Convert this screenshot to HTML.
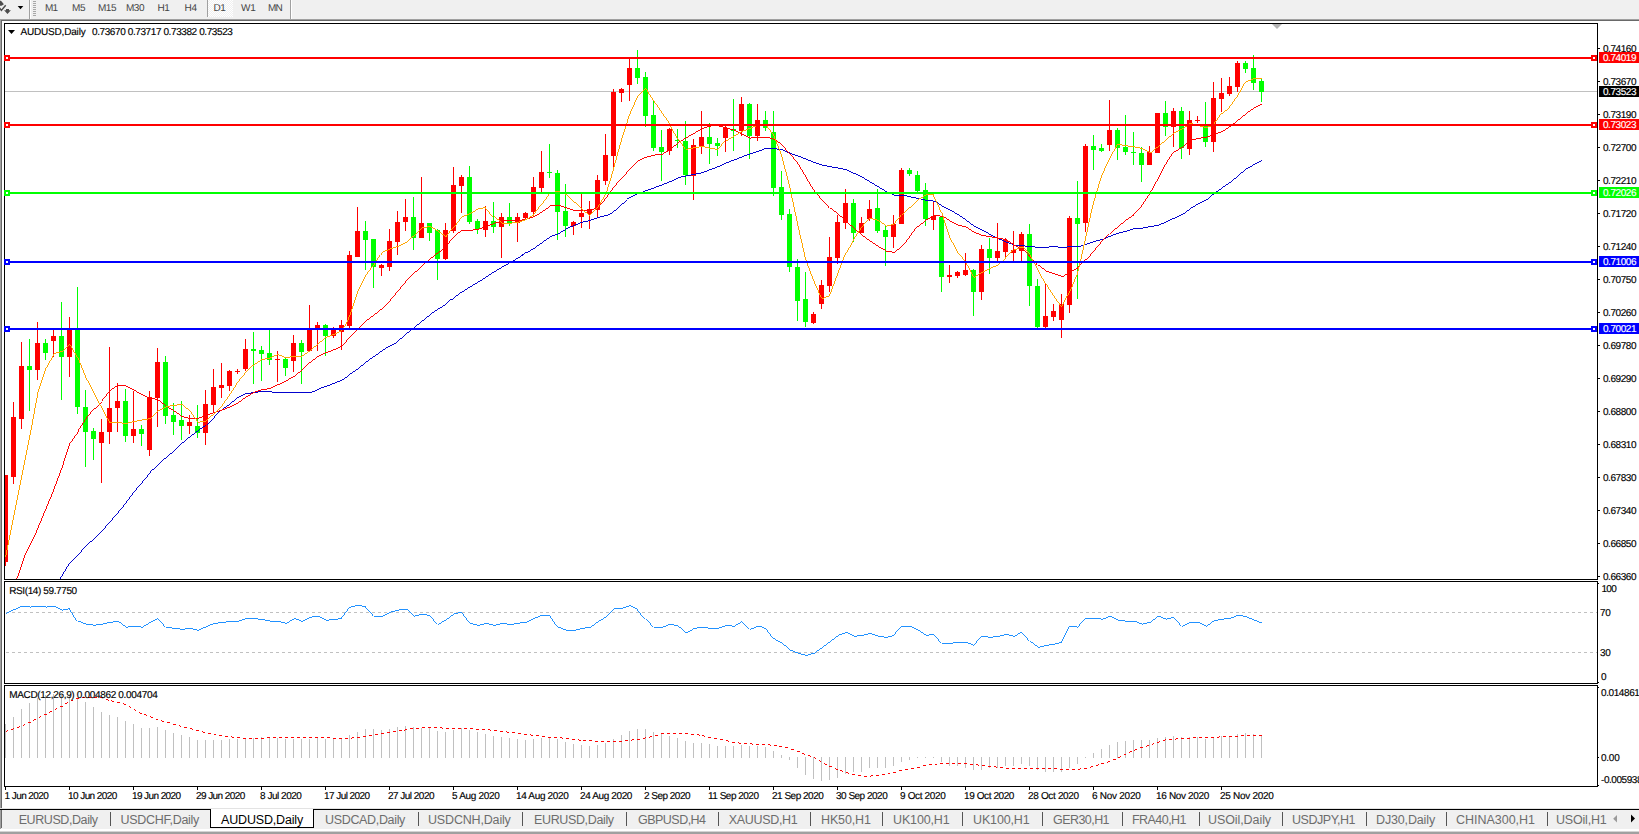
<!DOCTYPE html>
<html lang="en"><head><meta charset="utf-8"><title>AUDUSD,Daily</title>
<style>
html,body{margin:0;padding:0;background:#fff;}
body{width:1639px;height:834px;overflow:hidden;position:relative;font-family:"Liberation Sans",sans-serif;}
.t{position:absolute;white-space:nowrap;line-height:1;color:#000;text-rendering:geometricPrecision;-webkit-text-stroke:0.15px currentColor;}
svg{position:absolute;left:0;top:0;}

</style></head><body>
<svg width="1639" height="834" viewBox="0 0 1639 834" shape-rendering="crispEdges">
<rect x="0" y="0" width="1639" height="19" fill="#f0f0f0"/>
<rect x="0" y="19" width="1639" height="1" fill="#a0a0a0"/>
<rect x="0" y="20" width="1639" height="1" fill="#696969"/>
<rect x="0" y="20" width="1" height="788" fill="#a0a0a0"/>
<rect x="1" y="20" width="1" height="788" fill="#696969"/>
<rect x="29" y="0" width="1" height="19" fill="#a0a0a0"/><rect x="30" y="0" width="1" height="19" fill="#fff"/>
<rect x="33" y="1" width="3" height="1" fill="#a8a8a8"/>
<rect x="33" y="3" width="3" height="1" fill="#a8a8a8"/>
<rect x="33" y="5" width="3" height="1" fill="#a8a8a8"/>
<rect x="33" y="7" width="3" height="1" fill="#a8a8a8"/>
<rect x="33" y="9" width="3" height="1" fill="#a8a8a8"/>
<rect x="33" y="11" width="3" height="1" fill="#a8a8a8"/>
<rect x="33" y="13" width="3" height="1" fill="#a8a8a8"/>
<rect x="33" y="15" width="3" height="1" fill="#a8a8a8"/>
<rect x="207" y="0" width="1" height="17" fill="#a0a0a0"/>
<defs><pattern id="dz" width="2" height="2" patternUnits="userSpaceOnUse"><rect width="2" height="2" fill="#f0f0f0"/><rect width="1" height="1" fill="#fff"/><rect x="1" y="1" width="1" height="1" fill="#fff"/></pattern></defs>
<rect x="208" y="0" width="25" height="17" fill="url(#dz)"/>
<rect x="290" y="0" width="1" height="19" fill="#a0a0a0"/><rect x="291" y="0" width="1" height="19" fill="#fff"/>
<g shape-rendering="auto"><path d="M0 0.7 L1 0.7 L3.9 4.3 L1.6 5.7 L0 5.7 Z" fill="#4d4d4d"/><path d="M-0.5 8 L1.4 10.4 L5.7 5.3" stroke="#4d4d4d" stroke-width="1.5" fill="none"/><path d="M6 9 H9 V10.2 H10.9 L7.5 14 L4.1 10.2 H6 Z" fill="#4d4d4d"/><path d="M17.7 6 H23.3 L20.5 9.3 Z" fill="#000"/></g>
<rect x="4" y="23" width="1594" height="1" fill="#000"/>
<rect x="4" y="579" width="1594" height="1" fill="#000"/>
<rect x="4" y="23" width="1" height="557" fill="#000"/>
<rect x="1597" y="23" width="1" height="557" fill="#000"/>
<rect x="4" y="581" width="1594" height="1" fill="#000"/>
<rect x="4" y="683" width="1594" height="1" fill="#000"/>
<rect x="4" y="581" width="1" height="103" fill="#000"/>
<rect x="1597" y="581" width="1" height="103" fill="#000"/>
<rect x="4" y="685" width="1594" height="1" fill="#000"/>
<rect x="4" y="786" width="1594" height="1" fill="#000"/>
<rect x="4" y="685" width="1" height="102" fill="#000"/>
<rect x="1597" y="685" width="1" height="102" fill="#000"/>
<rect x="1598" y="48" width="2" height="1" fill="#000"/>
<rect x="1598" y="81" width="2" height="1" fill="#000"/>
<rect x="1598" y="114" width="2" height="1" fill="#000"/>
<rect x="1598" y="147" width="2" height="1" fill="#000"/>
<rect x="1598" y="180" width="2" height="1" fill="#000"/>
<rect x="1598" y="213" width="2" height="1" fill="#000"/>
<rect x="1598" y="246" width="2" height="1" fill="#000"/>
<rect x="1598" y="279" width="2" height="1" fill="#000"/>
<rect x="1598" y="312" width="2" height="1" fill="#000"/>
<rect x="1598" y="345" width="2" height="1" fill="#000"/>
<rect x="1598" y="378" width="2" height="1" fill="#000"/>
<rect x="1598" y="411" width="2" height="1" fill="#000"/>
<rect x="1598" y="444" width="2" height="1" fill="#000"/>
<rect x="1598" y="477" width="2" height="1" fill="#000"/>
<rect x="1598" y="510" width="2" height="1" fill="#000"/>
<rect x="1598" y="543" width="2" height="1" fill="#000"/>
<rect x="1598" y="576" width="2" height="1" fill="#000"/>
<rect x="1598" y="583" width="1" height="1" fill="#000"/>
<rect x="1598" y="682" width="1" height="1" fill="#000"/>
<rect x="1598" y="687" width="1" height="1" fill="#000"/>
<rect x="1598" y="757" width="1" height="1" fill="#000"/>
<rect x="1598" y="785" width="1" height="1" fill="#000"/>
<rect x="5" y="787" width="1" height="3" fill="#000"/>
<rect x="69" y="787" width="1" height="3" fill="#000"/>
<rect x="133" y="787" width="1" height="3" fill="#000"/>
<rect x="197" y="787" width="1" height="3" fill="#000"/>
<rect x="261" y="787" width="1" height="3" fill="#000"/>
<rect x="325" y="787" width="1" height="3" fill="#000"/>
<rect x="389" y="787" width="1" height="3" fill="#000"/>
<rect x="453" y="787" width="1" height="3" fill="#000"/>
<rect x="517" y="787" width="1" height="3" fill="#000"/>
<rect x="581" y="787" width="1" height="3" fill="#000"/>
<rect x="645" y="787" width="1" height="3" fill="#000"/>
<rect x="709" y="787" width="1" height="3" fill="#000"/>
<rect x="773" y="787" width="1" height="3" fill="#000"/>
<rect x="837" y="787" width="1" height="3" fill="#000"/>
<rect x="901" y="787" width="1" height="3" fill="#000"/>
<rect x="965" y="787" width="1" height="3" fill="#000"/>
<rect x="1029" y="787" width="1" height="3" fill="#000"/>
<rect x="1093" y="787" width="1" height="3" fill="#000"/>
<rect x="1157" y="787" width="1" height="3" fill="#000"/>
<rect x="1221" y="787" width="1" height="3" fill="#000"/>
<rect x="5" y="91" width="1592" height="1" fill="#c0c0c0"/>
<path d="M6 612.5 H1597 M6 652.5 H1597" stroke="#c0c0c0" stroke-width="1" stroke-dasharray="3 3" fill="none"/>
<defs><clipPath id="cm"><rect x="5" y="24" width="1592" height="555"/></clipPath></defs>
<g clip-path="url(#cm)">
<rect x="5" y="475" width="1" height="91" fill="#ff0000"/><rect x="3" y="475" width="5" height="87" fill="#ff0000"/>
<rect x="13" y="402" width="1" height="82" fill="#ff0000"/><rect x="11" y="417" width="5" height="60" fill="#ff0000"/>
<rect x="21" y="342" width="1" height="87" fill="#ff0000"/><rect x="19" y="366" width="5" height="53" fill="#ff0000"/>
<rect x="29" y="339" width="1" height="72" fill="#00ff00"/><rect x="27" y="366" width="5" height="4" fill="#00ff00"/>
<rect x="37" y="322" width="1" height="58" fill="#ff0000"/><rect x="35" y="343" width="5" height="27" fill="#ff0000"/>
<rect x="45" y="339" width="1" height="21" fill="#00ff00"/><rect x="43" y="343" width="5" height="10" fill="#00ff00"/>
<rect x="53" y="330" width="1" height="27" fill="#ff0000"/><rect x="51" y="336" width="5" height="5" fill="#ff0000"/>
<rect x="61" y="302" width="1" height="98" fill="#00ff00"/><rect x="59" y="336" width="5" height="21" fill="#00ff00"/>
<rect x="69" y="317" width="1" height="60" fill="#ff0000"/><rect x="67" y="330" width="5" height="27" fill="#ff0000"/>
<rect x="77" y="287" width="1" height="127" fill="#00ff00"/><rect x="75" y="330" width="5" height="77" fill="#00ff00"/>
<rect x="85" y="390" width="1" height="77" fill="#00ff00"/><rect x="83" y="407" width="5" height="25" fill="#00ff00"/>
<rect x="93" y="428" width="1" height="32" fill="#00ff00"/><rect x="91" y="431" width="5" height="8" fill="#00ff00"/>
<rect x="101" y="419" width="1" height="64" fill="#ff0000"/><rect x="99" y="432" width="5" height="11" fill="#ff0000"/>
<rect x="109" y="347" width="1" height="97" fill="#ff0000"/><rect x="107" y="408" width="5" height="24" fill="#ff0000"/>
<rect x="117" y="383" width="1" height="49" fill="#ff0000"/><rect x="115" y="401" width="5" height="7" fill="#ff0000"/>
<rect x="125" y="389" width="1" height="53" fill="#00ff00"/><rect x="123" y="401" width="5" height="35" fill="#00ff00"/>
<rect x="133" y="391" width="1" height="52" fill="#ff0000"/><rect x="131" y="429" width="5" height="7" fill="#ff0000"/>
<rect x="141" y="425" width="1" height="21" fill="#00ff00"/><rect x="139" y="429" width="5" height="5" fill="#00ff00"/>
<rect x="149" y="391" width="1" height="65" fill="#ff0000"/><rect x="147" y="397" width="5" height="53" fill="#ff0000"/>
<rect x="157" y="348" width="1" height="79" fill="#ff0000"/><rect x="155" y="362" width="5" height="36" fill="#ff0000"/>
<rect x="165" y="356" width="1" height="68" fill="#00ff00"/><rect x="163" y="362" width="5" height="54" fill="#00ff00"/>
<rect x="173" y="403" width="1" height="32" fill="#00ff00"/><rect x="171" y="415" width="5" height="7" fill="#00ff00"/>
<rect x="181" y="401" width="1" height="39" fill="#00ff00"/><rect x="179" y="420" width="5" height="6" fill="#00ff00"/>
<rect x="189" y="415" width="1" height="19" fill="#ff0000"/><rect x="187" y="422" width="5" height="4" fill="#ff0000"/>
<rect x="197" y="405" width="1" height="33" fill="#00ff00"/><rect x="195" y="426" width="5" height="7" fill="#00ff00"/>
<rect x="205" y="390" width="1" height="55" fill="#ff0000"/><rect x="203" y="404" width="5" height="29" fill="#ff0000"/>
<rect x="213" y="369" width="1" height="44" fill="#ff0000"/><rect x="211" y="387" width="5" height="18" fill="#ff0000"/>
<rect x="221" y="363" width="1" height="35" fill="#ff0000"/><rect x="219" y="385" width="5" height="3" fill="#ff0000"/>
<rect x="229" y="370" width="1" height="21" fill="#ff0000"/><rect x="227" y="371" width="5" height="15" fill="#ff0000"/>
<rect x="237" y="369" width="1" height="5" fill="#ff0000"/><rect x="235" y="371" width="5" height="1" fill="#ff0000"/>
<rect x="245" y="339" width="1" height="32" fill="#ff0000"/><rect x="243" y="349" width="5" height="20" fill="#ff0000"/>
<rect x="253" y="332" width="1" height="52" fill="#00ff00"/><rect x="251" y="349" width="5" height="2" fill="#00ff00"/>
<rect x="261" y="346" width="1" height="35" fill="#00ff00"/><rect x="259" y="350" width="5" height="4" fill="#00ff00"/>
<rect x="269" y="330" width="1" height="35" fill="#00ff00"/><rect x="267" y="353" width="5" height="7" fill="#00ff00"/>
<rect x="277" y="351" width="1" height="31" fill="#ff0000"/><rect x="275" y="359" width="5" height="1" fill="#ff0000"/>
<rect x="285" y="358" width="1" height="18" fill="#00ff00"/><rect x="283" y="359" width="5" height="9" fill="#00ff00"/>
<rect x="293" y="335" width="1" height="37" fill="#ff0000"/><rect x="291" y="343" width="5" height="18" fill="#ff0000"/>
<rect x="301" y="340" width="1" height="44" fill="#00ff00"/><rect x="299" y="343" width="5" height="9" fill="#00ff00"/>
<rect x="309" y="305" width="1" height="46" fill="#ff0000"/><rect x="307" y="329" width="5" height="22" fill="#ff0000"/>
<rect x="317" y="322" width="1" height="29" fill="#ff0000"/><rect x="315" y="325" width="5" height="5" fill="#ff0000"/>
<rect x="325" y="324" width="1" height="32" fill="#00ff00"/><rect x="323" y="325" width="5" height="11" fill="#00ff00"/>
<rect x="333" y="327" width="1" height="11" fill="#ff0000"/><rect x="331" y="329" width="5" height="7" fill="#ff0000"/>
<rect x="341" y="320" width="1" height="30" fill="#ff0000"/><rect x="339" y="325" width="5" height="7" fill="#ff0000"/>
<rect x="349" y="251" width="1" height="77" fill="#ff0000"/><rect x="347" y="255" width="5" height="71" fill="#ff0000"/>
<rect x="357" y="207" width="1" height="50" fill="#ff0000"/><rect x="355" y="231" width="5" height="26" fill="#ff0000"/>
<rect x="365" y="221" width="1" height="49" fill="#00ff00"/><rect x="363" y="231" width="5" height="9" fill="#00ff00"/>
<rect x="373" y="239" width="1" height="49" fill="#00ff00"/><rect x="371" y="239" width="5" height="28" fill="#00ff00"/>
<rect x="381" y="264" width="1" height="12" fill="#ff0000"/><rect x="379" y="265" width="5" height="3" fill="#ff0000"/>
<rect x="389" y="229" width="1" height="42" fill="#ff0000"/><rect x="387" y="241" width="5" height="26" fill="#ff0000"/>
<rect x="397" y="211" width="1" height="44" fill="#ff0000"/><rect x="395" y="222" width="5" height="20" fill="#ff0000"/>
<rect x="405" y="199" width="1" height="32" fill="#ff0000"/><rect x="403" y="217" width="5" height="5" fill="#ff0000"/>
<rect x="413" y="197" width="1" height="53" fill="#00ff00"/><rect x="411" y="217" width="5" height="21" fill="#00ff00"/>
<rect x="421" y="177" width="1" height="61" fill="#ff0000"/><rect x="419" y="223" width="5" height="15" fill="#ff0000"/>
<rect x="429" y="223" width="1" height="18" fill="#00ff00"/><rect x="427" y="223" width="5" height="10" fill="#00ff00"/>
<rect x="437" y="229" width="1" height="51" fill="#00ff00"/><rect x="435" y="230" width="5" height="29" fill="#00ff00"/>
<rect x="445" y="223" width="1" height="37" fill="#ff0000"/><rect x="443" y="230" width="5" height="29" fill="#ff0000"/>
<rect x="453" y="167" width="1" height="66" fill="#ff0000"/><rect x="451" y="185" width="5" height="46" fill="#ff0000"/>
<rect x="461" y="175" width="1" height="38" fill="#ff0000"/><rect x="459" y="177" width="5" height="9" fill="#ff0000"/>
<rect x="469" y="166" width="1" height="58" fill="#00ff00"/><rect x="467" y="177" width="5" height="45" fill="#00ff00"/>
<rect x="477" y="219" width="1" height="15" fill="#00ff00"/><rect x="475" y="221" width="5" height="8" fill="#00ff00"/>
<rect x="485" y="206" width="1" height="31" fill="#ff0000"/><rect x="483" y="221" width="5" height="9" fill="#ff0000"/>
<rect x="493" y="202" width="1" height="31" fill="#00ff00"/><rect x="491" y="221" width="5" height="6" fill="#00ff00"/>
<rect x="501" y="213" width="1" height="45" fill="#ff0000"/><rect x="499" y="217" width="5" height="10" fill="#ff0000"/>
<rect x="509" y="203" width="1" height="23" fill="#00ff00"/><rect x="507" y="217" width="5" height="6" fill="#00ff00"/>
<rect x="517" y="213" width="1" height="29" fill="#ff0000"/><rect x="515" y="217" width="5" height="6" fill="#ff0000"/>
<rect x="525" y="212" width="1" height="8" fill="#ff0000"/><rect x="523" y="213" width="5" height="5" fill="#ff0000"/>
<rect x="533" y="177" width="1" height="39" fill="#ff0000"/><rect x="531" y="187" width="5" height="25" fill="#ff0000"/>
<rect x="541" y="151" width="1" height="41" fill="#ff0000"/><rect x="539" y="172" width="5" height="16" fill="#ff0000"/>
<rect x="549" y="144" width="1" height="34" fill="#00ff00"/><rect x="547" y="172" width="5" height="1" fill="#00ff00"/>
<rect x="557" y="170" width="1" height="70" fill="#00ff00"/><rect x="555" y="173" width="5" height="39" fill="#00ff00"/>
<rect x="565" y="184" width="1" height="53" fill="#00ff00"/><rect x="563" y="211" width="5" height="15" fill="#00ff00"/>
<rect x="573" y="221" width="1" height="14" fill="#ff0000"/><rect x="571" y="222" width="5" height="4" fill="#ff0000"/>
<rect x="581" y="194" width="1" height="34" fill="#ff0000"/><rect x="579" y="213" width="5" height="4" fill="#ff0000"/>
<rect x="589" y="201" width="1" height="28" fill="#ff0000"/><rect x="587" y="209" width="5" height="5" fill="#ff0000"/>
<rect x="597" y="175" width="1" height="42" fill="#ff0000"/><rect x="595" y="180" width="5" height="30" fill="#ff0000"/>
<rect x="605" y="134" width="1" height="51" fill="#ff0000"/><rect x="603" y="155" width="5" height="26" fill="#ff0000"/>
<rect x="613" y="89" width="1" height="80" fill="#ff0000"/><rect x="611" y="92" width="5" height="64" fill="#ff0000"/>
<rect x="621" y="88" width="1" height="14" fill="#ff0000"/><rect x="619" y="89" width="5" height="4" fill="#ff0000"/>
<rect x="629" y="59" width="1" height="42" fill="#ff0000"/><rect x="627" y="68" width="5" height="17" fill="#ff0000"/>
<rect x="637" y="50" width="1" height="34" fill="#00ff00"/><rect x="635" y="68" width="5" height="10" fill="#00ff00"/>
<rect x="645" y="72" width="1" height="55" fill="#00ff00"/><rect x="643" y="77" width="5" height="39" fill="#00ff00"/>
<rect x="653" y="101" width="1" height="50" fill="#00ff00"/><rect x="651" y="115" width="5" height="33" fill="#00ff00"/>
<rect x="661" y="130" width="1" height="51" fill="#00ff00"/><rect x="659" y="147" width="5" height="5" fill="#00ff00"/>
<rect x="669" y="128" width="1" height="27" fill="#ff0000"/><rect x="667" y="129" width="5" height="22" fill="#ff0000"/>
<rect x="677" y="129" width="1" height="19" fill="#00ff00"/><rect x="675" y="140" width="5" height="1" fill="#00ff00"/>
<rect x="685" y="121" width="1" height="64" fill="#00ff00"/><rect x="683" y="141" width="5" height="34" fill="#00ff00"/>
<rect x="693" y="139" width="1" height="61" fill="#ff0000"/><rect x="691" y="145" width="5" height="31" fill="#ff0000"/>
<rect x="701" y="111" width="1" height="43" fill="#ff0000"/><rect x="699" y="137" width="5" height="9" fill="#ff0000"/>
<rect x="709" y="123" width="1" height="41" fill="#00ff00"/><rect x="707" y="137" width="5" height="7" fill="#00ff00"/>
<rect x="717" y="138" width="1" height="18" fill="#00ff00"/><rect x="715" y="143" width="5" height="3" fill="#00ff00"/>
<rect x="725" y="126" width="1" height="26" fill="#ff0000"/><rect x="723" y="128" width="5" height="10" fill="#ff0000"/>
<rect x="733" y="99" width="1" height="52" fill="#00ff00"/><rect x="731" y="129" width="5" height="2" fill="#00ff00"/>
<rect x="741" y="97" width="1" height="39" fill="#ff0000"/><rect x="739" y="104" width="5" height="27" fill="#ff0000"/>
<rect x="749" y="103" width="1" height="56" fill="#00ff00"/><rect x="747" y="104" width="5" height="32" fill="#00ff00"/>
<rect x="757" y="104" width="1" height="37" fill="#ff0000"/><rect x="755" y="120" width="5" height="16" fill="#ff0000"/>
<rect x="765" y="111" width="1" height="20" fill="#00ff00"/><rect x="763" y="120" width="5" height="8" fill="#00ff00"/>
<rect x="773" y="111" width="1" height="85" fill="#00ff00"/><rect x="771" y="132" width="5" height="56" fill="#00ff00"/>
<rect x="781" y="171" width="1" height="49" fill="#00ff00"/><rect x="779" y="187" width="5" height="28" fill="#00ff00"/>
<rect x="789" y="209" width="1" height="63" fill="#00ff00"/><rect x="787" y="214" width="5" height="53" fill="#00ff00"/>
<rect x="797" y="259" width="1" height="62" fill="#00ff00"/><rect x="795" y="267" width="5" height="34" fill="#00ff00"/>
<rect x="805" y="272" width="1" height="55" fill="#00ff00"/><rect x="803" y="299" width="5" height="23" fill="#00ff00"/>
<rect x="813" y="312" width="1" height="12" fill="#ff0000"/><rect x="811" y="314" width="5" height="9" fill="#ff0000"/>
<rect x="821" y="280" width="1" height="29" fill="#ff0000"/><rect x="819" y="285" width="5" height="19" fill="#ff0000"/>
<rect x="829" y="237" width="1" height="55" fill="#ff0000"/><rect x="827" y="257" width="5" height="29" fill="#ff0000"/>
<rect x="837" y="215" width="1" height="49" fill="#ff0000"/><rect x="835" y="222" width="5" height="36" fill="#ff0000"/>
<rect x="845" y="189" width="1" height="40" fill="#ff0000"/><rect x="843" y="203" width="5" height="20" fill="#ff0000"/>
<rect x="853" y="199" width="1" height="43" fill="#00ff00"/><rect x="851" y="203" width="5" height="30" fill="#00ff00"/>
<rect x="861" y="217" width="1" height="16" fill="#ff0000"/><rect x="859" y="223" width="5" height="10" fill="#ff0000"/>
<rect x="869" y="200" width="1" height="21" fill="#ff0000"/><rect x="867" y="209" width="5" height="10" fill="#ff0000"/>
<rect x="877" y="189" width="1" height="44" fill="#00ff00"/><rect x="875" y="208" width="5" height="23" fill="#00ff00"/>
<rect x="885" y="225" width="1" height="41" fill="#00ff00"/><rect x="883" y="230" width="5" height="7" fill="#00ff00"/>
<rect x="893" y="215" width="1" height="33" fill="#ff0000"/><rect x="891" y="224" width="5" height="13" fill="#ff0000"/>
<rect x="901" y="168" width="1" height="56" fill="#ff0000"/><rect x="899" y="170" width="5" height="54" fill="#ff0000"/>
<rect x="909" y="168" width="1" height="8" fill="#00ff00"/><rect x="907" y="170" width="5" height="4" fill="#00ff00"/>
<rect x="917" y="171" width="1" height="21" fill="#00ff00"/><rect x="915" y="175" width="5" height="16" fill="#00ff00"/>
<rect x="925" y="183" width="1" height="43" fill="#00ff00"/><rect x="923" y="190" width="5" height="29" fill="#00ff00"/>
<rect x="933" y="201" width="1" height="29" fill="#ff0000"/><rect x="931" y="216" width="5" height="4" fill="#ff0000"/>
<rect x="941" y="217" width="1" height="75" fill="#00ff00"/><rect x="939" y="217" width="5" height="60" fill="#00ff00"/>
<rect x="949" y="265" width="1" height="18" fill="#ff0000"/><rect x="947" y="275" width="5" height="2" fill="#ff0000"/>
<rect x="957" y="271" width="1" height="7" fill="#ff0000"/><rect x="955" y="272" width="5" height="4" fill="#ff0000"/>
<rect x="965" y="253" width="1" height="23" fill="#ff0000"/><rect x="963" y="270" width="5" height="5" fill="#ff0000"/>
<rect x="973" y="269" width="1" height="47" fill="#00ff00"/><rect x="971" y="270" width="5" height="22" fill="#00ff00"/>
<rect x="981" y="245" width="1" height="55" fill="#ff0000"/><rect x="979" y="249" width="5" height="43" fill="#ff0000"/>
<rect x="989" y="238" width="1" height="36" fill="#00ff00"/><rect x="987" y="249" width="5" height="9" fill="#00ff00"/>
<rect x="997" y="223" width="1" height="38" fill="#ff0000"/><rect x="995" y="251" width="5" height="7" fill="#ff0000"/>
<rect x="1005" y="238" width="1" height="19" fill="#ff0000"/><rect x="1003" y="240" width="5" height="12" fill="#ff0000"/>
<rect x="1013" y="231" width="1" height="30" fill="#ff0000"/><rect x="1011" y="250" width="5" height="3" fill="#ff0000"/>
<rect x="1021" y="232" width="1" height="29" fill="#ff0000"/><rect x="1019" y="234" width="5" height="17" fill="#ff0000"/>
<rect x="1029" y="224" width="1" height="82" fill="#00ff00"/><rect x="1027" y="234" width="5" height="52" fill="#00ff00"/>
<rect x="1037" y="279" width="1" height="49" fill="#00ff00"/><rect x="1035" y="286" width="5" height="41" fill="#00ff00"/>
<rect x="1045" y="283" width="1" height="45" fill="#ff0000"/><rect x="1043" y="316" width="5" height="11" fill="#ff0000"/>
<rect x="1053" y="304" width="1" height="17" fill="#ff0000"/><rect x="1051" y="311" width="5" height="6" fill="#ff0000"/>
<rect x="1061" y="294" width="1" height="44" fill="#ff0000"/><rect x="1059" y="304" width="5" height="16" fill="#ff0000"/>
<rect x="1069" y="216" width="1" height="97" fill="#ff0000"/><rect x="1067" y="218" width="5" height="87" fill="#ff0000"/>
<rect x="1077" y="181" width="1" height="118" fill="#00ff00"/><rect x="1075" y="218" width="5" height="6" fill="#00ff00"/>
<rect x="1085" y="144" width="1" height="88" fill="#ff0000"/><rect x="1083" y="146" width="5" height="77" fill="#ff0000"/>
<rect x="1093" y="135" width="1" height="35" fill="#00ff00"/><rect x="1091" y="146" width="5" height="4" fill="#00ff00"/>
<rect x="1101" y="144" width="1" height="8" fill="#00ff00"/><rect x="1099" y="148" width="5" height="3" fill="#00ff00"/>
<rect x="1109" y="100" width="1" height="51" fill="#ff0000"/><rect x="1107" y="130" width="5" height="15" fill="#ff0000"/>
<rect x="1117" y="128" width="1" height="32" fill="#00ff00"/><rect x="1115" y="130" width="5" height="18" fill="#00ff00"/>
<rect x="1125" y="115" width="1" height="40" fill="#00ff00"/><rect x="1123" y="147" width="5" height="5" fill="#00ff00"/>
<rect x="1133" y="132" width="1" height="33" fill="#00ff00"/><rect x="1131" y="152" width="5" height="1" fill="#00ff00"/>
<rect x="1141" y="147" width="1" height="35" fill="#00ff00"/><rect x="1139" y="153" width="5" height="12" fill="#00ff00"/>
<rect x="1149" y="146" width="1" height="19" fill="#ff0000"/><rect x="1147" y="152" width="5" height="13" fill="#ff0000"/>
<rect x="1157" y="113" width="1" height="40" fill="#ff0000"/><rect x="1155" y="113" width="5" height="40" fill="#ff0000"/>
<rect x="1165" y="101" width="1" height="35" fill="#00ff00"/><rect x="1163" y="113" width="5" height="14" fill="#00ff00"/>
<rect x="1173" y="108" width="1" height="39" fill="#ff0000"/><rect x="1171" y="111" width="5" height="16" fill="#ff0000"/>
<rect x="1181" y="107" width="1" height="52" fill="#00ff00"/><rect x="1179" y="111" width="5" height="37" fill="#00ff00"/>
<rect x="1189" y="111" width="1" height="44" fill="#ff0000"/><rect x="1187" y="120" width="5" height="29" fill="#ff0000"/>
<rect x="1197" y="116" width="1" height="7" fill="#ff0000"/><rect x="1195" y="120" width="5" height="1" fill="#ff0000"/>
<rect x="1205" y="102" width="1" height="45" fill="#00ff00"/><rect x="1203" y="126" width="5" height="16" fill="#00ff00"/>
<rect x="1213" y="82" width="1" height="70" fill="#ff0000"/><rect x="1211" y="98" width="5" height="44" fill="#ff0000"/>
<rect x="1221" y="78" width="1" height="34" fill="#ff0000"/><rect x="1219" y="93" width="5" height="6" fill="#ff0000"/>
<rect x="1229" y="77" width="1" height="19" fill="#ff0000"/><rect x="1227" y="86" width="5" height="8" fill="#ff0000"/>
<rect x="1237" y="61" width="1" height="31" fill="#ff0000"/><rect x="1235" y="63" width="5" height="24" fill="#ff0000"/>
<rect x="1245" y="61" width="1" height="12" fill="#00ff00"/><rect x="1243" y="63" width="5" height="6" fill="#00ff00"/>
<rect x="1253" y="55" width="1" height="35" fill="#00ff00"/><rect x="1251" y="68" width="5" height="15" fill="#00ff00"/>
<rect x="1261" y="78" width="1" height="24" fill="#00ff00"/><rect x="1259" y="81" width="5" height="11" fill="#00ff00"/>
</g>
<g clip-path="url(#cm)">
<polyline points="60.0,579.0 69.5,563.0 81.1,550.5 90.7,541.8 100.3,533.0 111.8,519.8 123.3,506.3 134.8,491.0 146.3,477.6 152.5,469.2 158.2,464.4 166.0,457.7 173.9,451.0 182.0,443.3 190.0,436.6 197.9,430.9 205.9,425.1 214.0,416.5 221.9,409.8 229.9,404.0 238.0,397.3 245.8,393.8 253.9,392.5 262.0,391.5 269.8,391.5 275.2,392.5 310.5,392.4 319.3,388.5 328.9,385.3 338.5,381.4 348.1,375.7 357.6,369.0 367.2,361.3 376.8,354.6 386.4,347.8 396.0,343.0 405.6,334.4 415.2,326.7 424.8,319.1 434.4,311.4 444.0,305.6 450.5,299.9 454.0,298.1 460.5,292.4 470.5,286.0 480.5,280.0 490.5,273.5 497.5,269.2 509.5,262.5 517.5,257.7 525.5,252.9 533.5,248.1 541.5,242.4 549.5,236.6 557.5,233.7 565.5,228.9 573.5,225.1 581.5,222.2 589.5,220.3 597.5,217.4 605.5,215.5 610.5,213.6 626.9,199.2 637.5,193.5 645.5,190.6 653.5,187.7 661.5,184.8 669.5,181.6 677.5,177.7 685.5,175.8 693.5,174.3 701.5,172.8 709.5,169.5 717.5,166.6 725.5,162.8 733.5,159.9 741.5,156.6 749.5,153.9 757.5,151.0 765.5,148.5 773.5,148.5 781.5,149.9 789.5,153.3 797.5,156.2 805.5,159.4 813.5,162.5 821.5,165.2 829.5,166.7 837.5,168.1 845.5,169.6 853.5,173.5 861.5,177.3 869.5,182.1 877.5,186.9 885.5,191.7 893.5,195.1 901.5,195.0 909.5,196.9 917.5,198.4 925.5,200.3 933.5,201.2 941.5,206.0 949.5,210.3 957.5,214.7 965.5,220.4 973.5,226.2 981.5,230.0 989.5,234.8 997.5,238.7 1005.5,242.1 1013.5,245.0 1021.5,245.7 1029.5,246.6 1037.5,247.4 1045.5,247.2 1053.5,246.5 1061.5,247.5 1069.5,246.6 1077.5,246.6 1085.5,244.3 1093.5,241.4 1101.5,239.5 1109.5,236.0 1117.5,233.1 1125.5,231.2 1133.5,228.6 1141.5,228.0 1149.5,226.6 1157.5,225.2 1165.5,221.8 1173.5,218.0 1181.5,214.5 1189.5,208.5 1197.5,203.7 1205.5,199.9 1213.5,193.2 1220.5,188.4 1230.5,181.4 1245.5,168.8 1261.5,160.0" fill="none" stroke="#0000cd" stroke-width="0.99" />
<polyline points="16.8,579.0 25.5,554.0 35.0,535.0 44.6,512.0 53.3,491.0 61.9,468.0 69.5,444.0 77.2,433.4 79.2,429.0 86.8,417.7 94.5,408.0 102.2,400.5 109.9,390.9 117.9,385.0 126.0,386.0 133.8,390.0 141.9,394.7 150.1,398.1 158.0,399.7 166.0,405.9 173.9,410.7 182.0,416.5 190.0,418.4 197.9,418.4 205.9,415.5 214.0,412.6 221.9,410.1 229.9,406.9 238.0,403.0 245.8,397.3 253.9,392.5 262.0,389.6 269.8,388.7 277.9,384.8 285.9,381.0 294.0,376.5 302.0,370.1 310.0,362.5 317.9,356.5 326.0,352.6 334.0,349.8 341.9,345.9 350.0,337.3 357.6,329.6 367.2,320.0 377.0,312.9 386.6,304.7 396.2,293.2 405.8,281.7 415.4,272.1 425.0,263.0 434.6,255.4 444.4,248.2 454.0,236.6 461.5,230.5 469.5,230.5 477.5,229.0 485.5,226.5 493.5,223.2 501.5,220.9 509.5,220.9 517.5,220.9 525.5,219.0 533.5,216.5 541.5,211.7 549.5,205.9 557.5,205.0 565.5,207.8 573.5,210.7 581.5,210.7 589.5,209.8 597.5,207.8 605.7,198.7 613.5,187.7 621.5,178.1 629.5,168.5 637.5,160.9 645.5,157.0 653.5,155.1 661.5,154.2 669.5,149.4 677.5,142.6 685.5,137.8 693.5,133.0 701.5,128.3 709.5,126.0 717.5,125.8 725.5,127.9 733.5,130.2 741.5,134.0 749.5,138.0 757.5,137.7 765.5,137.0 773.5,139.5 781.5,144.7 789.5,153.3 797.5,162.9 805.5,176.3 813.5,189.8 821.5,199.4 829.5,208.1 837.5,214.3 845.5,221.5 853.5,228.7 861.5,235.4 869.5,241.2 877.5,246.5 885.5,251.0 893.5,252.4 901.5,245.8 909.5,236.5 917.5,226.2 925.5,219.9 933.5,215.6 941.5,216.2 949.5,221.0 957.5,225.2 965.5,227.1 973.5,232.5 981.5,235.4 989.5,236.7 997.5,238.3 1005.5,239.6 1013.5,245.4 1021.5,248.4 1029.5,256.0 1037.5,265.2 1045.5,271.2 1053.5,273.7 1061.5,276.7 1069.5,271.9 1077.5,267.7 1085.5,259.1 1093.5,251.4 1101.5,241.8 1109.5,233.6 1117.5,226.2 1125.5,219.9 1133.5,214.6 1141.5,206.0 1149.5,194.1 1157.5,179.8 1165.5,164.4 1173.5,151.9 1181.5,147.1 1189.5,140.2 1197.5,138.5 1205.5,137.1 1213.5,134.5 1221.5,131.4 1229.5,126.3 1237.5,119.9 1245.5,113.4 1253.5,107.6 1261.5,104.0" fill="none" stroke="#ff0000" stroke-width="0.99" />
<polyline points="5.5,557.0 31.2,429.0 37.9,392.8 46.0,367.8 53.8,353.5 61.9,351.5 69.9,343.5 77.8,357.3 85.9,377.4 93.9,392.8 101.8,408.0 109.9,423.0 117.9,422.5 126.0,423.5 133.8,421.6 141.9,420.0 149.9,418.7 158.0,410.9 166.0,406.9 173.9,405.3 182.0,404.6 190.0,410.7 197.9,422.2 205.9,421.3 214.0,413.6 221.9,405.9 229.9,394.4 238.0,381.9 245.8,372.3 253.9,364.7 262.0,359.5 269.8,358.0 277.9,354.5 285.9,357.6 294.0,356.4 302.0,356.1 310.0,350.7 317.9,344.0 326.0,337.3 334.0,334.4 341.9,330.6 346.1,323.9 350.0,315.0 357.8,291.8 365.9,275.1 374.0,264.6 381.8,252.5 389.9,249.2 398.0,246.3 406.0,242.5 413.9,235.8 421.9,228.1 430.0,226.2 437.9,231.0 445.9,236.7 453.8,226.6 461.5,216.5 469.5,213.6 477.5,208.8 485.5,207.5 493.5,216.5 501.5,223.2 509.5,223.2 517.5,222.2 525.5,219.4 533.5,214.6 541.5,204.0 549.5,192.5 557.5,191.5 565.5,194.4 573.5,202.0 581.5,209.8 589.5,215.9 597.5,207.8 605.7,194.0 613.5,168.5 621.5,139.8 629.5,114.8 637.5,96.6 645.5,88.2 653.5,100.4 661.5,112.0 669.5,123.5 677.5,137.8 685.5,149.4 693.5,147.8 701.5,146.5 709.5,148.4 717.5,149.4 725.5,140.7 733.5,135.9 741.5,131.1 749.5,128.2 757.5,125.0 765.5,124.1 773.5,135.1 781.5,155.2 789.5,185.9 797.5,223.4 805.5,259.0 813.5,280.2 821.5,298.4 829.5,295.5 837.5,274.4 845.5,253.3 853.5,239.5 861.5,227.3 869.5,218.3 877.5,220.4 885.5,226.0 893.5,224.4 901.5,214.9 909.5,207.0 917.5,199.3 925.5,194.9 933.5,194.5 941.5,211.8 949.5,236.7 957.5,252.1 965.5,261.7 973.5,277.0 981.5,272.2 989.5,268.4 997.5,264.6 1005.5,257.8 1013.5,249.8 1021.5,247.0 1029.5,254.6 1037.5,268.5 1045.5,282.9 1053.5,295.8 1061.5,307.0 1069.5,291.7 1077.5,272.5 1081.4,257.1 1085.5,238.6 1091.0,213.0 1093.5,202.8 1101.5,175.9 1109.5,158.7 1117.5,144.3 1125.5,145.8 1133.5,146.8 1141.5,148.7 1149.5,152.9 1157.5,146.2 1165.5,139.5 1173.5,132.8 1181.5,128.9 1189.5,123.3 1197.5,125.7 1205.5,127.7 1213.5,124.5 1221.5,113.4 1229.5,106.9 1237.5,96.1 1245.5,81.7 1253.5,78.4 1261.5,78.4" fill="none" stroke="#ffa500" stroke-width="0.99" />
</g>
<rect x="5" y="57" width="1592" height="2" fill="#ff0000"/>
<rect x="4" y="55" width="6" height="6" fill="#ff0000"/><rect x="6" y="57" width="2" height="2" fill="#fff"/>
<rect x="1591" y="55" width="6" height="6" fill="#ff0000"/><rect x="1593" y="57" width="2" height="2" fill="#fff"/>
<rect x="5" y="124" width="1592" height="2" fill="#ff0000"/>
<rect x="4" y="122" width="6" height="6" fill="#ff0000"/><rect x="6" y="124" width="2" height="2" fill="#fff"/>
<rect x="1591" y="122" width="6" height="6" fill="#ff0000"/><rect x="1593" y="124" width="2" height="2" fill="#fff"/>
<rect x="5" y="192" width="1592" height="2" fill="#00ff00"/>
<rect x="4" y="190" width="6" height="6" fill="#00ff00"/><rect x="6" y="192" width="2" height="2" fill="#fff"/>
<rect x="1591" y="190" width="6" height="6" fill="#00ff00"/><rect x="1593" y="192" width="2" height="2" fill="#fff"/>
<rect x="5" y="261" width="1592" height="2" fill="#0000ff"/>
<rect x="4" y="259" width="6" height="6" fill="#0000ff"/><rect x="6" y="261" width="2" height="2" fill="#fff"/>
<rect x="1591" y="259" width="6" height="6" fill="#0000ff"/><rect x="1593" y="261" width="2" height="2" fill="#fff"/>
<rect x="5" y="328" width="1592" height="2" fill="#0000ff"/>
<rect x="4" y="326" width="6" height="6" fill="#0000ff"/><rect x="6" y="328" width="2" height="2" fill="#fff"/>
<rect x="1591" y="326" width="6" height="6" fill="#0000ff"/><rect x="1593" y="328" width="2" height="2" fill="#fff"/>
<polyline points="5.5,613.2 13.5,609.5 21.5,606.1 29.5,607.1 37.5,606.1 45.5,607.1 53.5,606.1 61.5,610.1 69.5,608.5 77.5,621.2 85.5,624.2 93.5,625.2 101.5,624.2 109.5,622.2 117.5,621.6 125.5,627.2 133.5,626.2 141.5,627.2 149.5,622.2 157.5,618.2 165.5,627.2 173.5,628.3 181.5,629.3 189.5,628.3 197.5,630.3 205.5,626.6 213.5,623.2 221.5,622.8 229.5,621.2 237.5,621.2 245.5,618.6 253.5,618.4 261.5,619.4 269.5,621.2 277.5,621.4 285.5,623.4 293.5,618.6 301.5,621.4 309.5,617.2 317.5,616.4 325.5,620.2 333.5,619.6 341.5,618.2 349.5,607.1 357.5,605.1 365.5,607.1 373.5,616.2 381.5,616.2 389.5,612.1 397.5,610.1 405.5,609.1 413.5,616.2 421.5,614.2 429.5,615.8 437.5,624.2 445.5,619.6 453.5,613.8 461.5,612.1 469.5,623.2 477.5,625.6 485.5,623.2 493.5,625.6 501.5,623.2 509.5,624.6 517.5,623.2 525.5,622.2 533.5,618.2 541.5,615.2 549.5,615.4 557.5,627.2 565.5,630.3 573.5,630.3 581.5,628.3 589.5,627.2 597.5,621.6 605.5,616.6 613.5,608.5 621.5,608.1 629.5,605.7 637.5,609.5 645.5,618.7 653.5,627.2 661.5,627.2 669.5,624.2 677.5,626.2 685.5,632.9 693.5,628.3 701.5,627.2 709.5,628.3 717.5,628.3 725.5,625.6 733.5,626.2 741.5,621.2 749.5,629.3 757.5,626.2 765.5,628.3 773.5,638.9 781.5,643.4 789.5,650.0 797.5,653.4 805.5,655.4 813.5,653.0 821.5,647.4 829.5,641.3 837.5,635.3 845.5,632.3 853.5,636.3 861.5,635.3 869.5,633.3 877.5,636.3 885.5,637.3 893.5,635.3 901.5,626.2 909.5,626.2 917.5,630.3 925.5,635.3 933.5,634.3 941.5,643.4 949.5,643.4 957.5,642.3 965.5,642.3 973.5,645.4 981.5,636.3 989.5,637.3 997.5,636.3 1005.5,634.3 1013.5,636.3 1021.5,632.3 1029.5,641.3 1037.5,647.4 1045.5,645.4 1053.5,644.0 1061.5,642.3 1069.5,626.2 1077.5,627.2 1085.5,618.2 1093.5,618.2 1101.5,619.2 1109.5,616.2 1117.5,620.2 1125.5,621.2 1133.5,621.2 1141.5,624.2 1149.5,622.2 1157.5,616.2 1165.5,619.2 1173.5,617.2 1181.5,626.2 1189.5,622.2 1197.5,622.2 1205.5,626.2 1213.5,620.6 1221.5,619.2 1229.5,618.2 1237.5,615.2 1245.5,616.8 1253.5,620.2 1261.5,623.2" fill="none" stroke="#1e90ff" stroke-width="0.99" />
<rect x="5" y="724" width="1" height="34" fill="#c0c0c0"/>
<rect x="13" y="717" width="1" height="41" fill="#c0c0c0"/>
<rect x="21" y="709" width="1" height="49" fill="#c0c0c0"/>
<rect x="29" y="703" width="1" height="55" fill="#c0c0c0"/>
<rect x="37" y="698" width="1" height="60" fill="#c0c0c0"/>
<rect x="45" y="695" width="1" height="63" fill="#c0c0c0"/>
<rect x="53" y="694" width="1" height="64" fill="#c0c0c0"/>
<rect x="61" y="695" width="1" height="63" fill="#c0c0c0"/>
<rect x="69" y="696" width="1" height="62" fill="#c0c0c0"/>
<rect x="77" y="698" width="1" height="60" fill="#c0c0c0"/>
<rect x="85" y="702" width="1" height="56" fill="#c0c0c0"/>
<rect x="93" y="707" width="1" height="51" fill="#c0c0c0"/>
<rect x="101" y="712" width="1" height="46" fill="#c0c0c0"/>
<rect x="109" y="715" width="1" height="43" fill="#c0c0c0"/>
<rect x="117" y="717" width="1" height="41" fill="#c0c0c0"/>
<rect x="125" y="721" width="1" height="37" fill="#c0c0c0"/>
<rect x="133" y="724" width="1" height="34" fill="#c0c0c0"/>
<rect x="141" y="728" width="1" height="30" fill="#c0c0c0"/>
<rect x="149" y="728" width="1" height="30" fill="#c0c0c0"/>
<rect x="157" y="727" width="1" height="31" fill="#c0c0c0"/>
<rect x="165" y="730" width="1" height="28" fill="#c0c0c0"/>
<rect x="173" y="733" width="1" height="25" fill="#c0c0c0"/>
<rect x="181" y="735" width="1" height="23" fill="#c0c0c0"/>
<rect x="189" y="737" width="1" height="21" fill="#c0c0c0"/>
<rect x="197" y="740" width="1" height="18" fill="#c0c0c0"/>
<rect x="205" y="740" width="1" height="18" fill="#c0c0c0"/>
<rect x="213" y="740" width="1" height="18" fill="#c0c0c0"/>
<rect x="221" y="740" width="1" height="18" fill="#c0c0c0"/>
<rect x="229" y="739" width="1" height="19" fill="#c0c0c0"/>
<rect x="237" y="739" width="1" height="19" fill="#c0c0c0"/>
<rect x="245" y="738" width="1" height="20" fill="#c0c0c0"/>
<rect x="253" y="738" width="1" height="20" fill="#c0c0c0"/>
<rect x="261" y="737" width="1" height="21" fill="#c0c0c0"/>
<rect x="269" y="738" width="1" height="20" fill="#c0c0c0"/>
<rect x="277" y="738" width="1" height="20" fill="#c0c0c0"/>
<rect x="285" y="739" width="1" height="19" fill="#c0c0c0"/>
<rect x="293" y="739" width="1" height="19" fill="#c0c0c0"/>
<rect x="301" y="739" width="1" height="19" fill="#c0c0c0"/>
<rect x="309" y="739" width="1" height="19" fill="#c0c0c0"/>
<rect x="317" y="738" width="1" height="20" fill="#c0c0c0"/>
<rect x="325" y="739" width="1" height="19" fill="#c0c0c0"/>
<rect x="333" y="739" width="1" height="19" fill="#c0c0c0"/>
<rect x="341" y="739" width="1" height="19" fill="#c0c0c0"/>
<rect x="349" y="735" width="1" height="23" fill="#c0c0c0"/>
<rect x="357" y="732" width="1" height="26" fill="#c0c0c0"/>
<rect x="365" y="729" width="1" height="29" fill="#c0c0c0"/>
<rect x="373" y="729" width="1" height="29" fill="#c0c0c0"/>
<rect x="381" y="730" width="1" height="28" fill="#c0c0c0"/>
<rect x="389" y="729" width="1" height="29" fill="#c0c0c0"/>
<rect x="397" y="727" width="1" height="31" fill="#c0c0c0"/>
<rect x="405" y="726" width="1" height="32" fill="#c0c0c0"/>
<rect x="413" y="727" width="1" height="31" fill="#c0c0c0"/>
<rect x="421" y="728" width="1" height="30" fill="#c0c0c0"/>
<rect x="429" y="728" width="1" height="30" fill="#c0c0c0"/>
<rect x="437" y="731" width="1" height="27" fill="#c0c0c0"/>
<rect x="445" y="732" width="1" height="26" fill="#c0c0c0"/>
<rect x="453" y="730" width="1" height="28" fill="#c0c0c0"/>
<rect x="461" y="728" width="1" height="30" fill="#c0c0c0"/>
<rect x="469" y="730" width="1" height="28" fill="#c0c0c0"/>
<rect x="477" y="732" width="1" height="26" fill="#c0c0c0"/>
<rect x="485" y="734" width="1" height="24" fill="#c0c0c0"/>
<rect x="493" y="736" width="1" height="22" fill="#c0c0c0"/>
<rect x="501" y="737" width="1" height="21" fill="#c0c0c0"/>
<rect x="509" y="738" width="1" height="20" fill="#c0c0c0"/>
<rect x="517" y="739" width="1" height="19" fill="#c0c0c0"/>
<rect x="525" y="740" width="1" height="18" fill="#c0c0c0"/>
<rect x="533" y="739" width="1" height="19" fill="#c0c0c0"/>
<rect x="541" y="738" width="1" height="20" fill="#c0c0c0"/>
<rect x="549" y="738" width="1" height="20" fill="#c0c0c0"/>
<rect x="557" y="739" width="1" height="19" fill="#c0c0c0"/>
<rect x="565" y="742" width="1" height="16" fill="#c0c0c0"/>
<rect x="573" y="744" width="1" height="14" fill="#c0c0c0"/>
<rect x="581" y="745" width="1" height="13" fill="#c0c0c0"/>
<rect x="589" y="746" width="1" height="12" fill="#c0c0c0"/>
<rect x="597" y="745" width="1" height="13" fill="#c0c0c0"/>
<rect x="605" y="743" width="1" height="15" fill="#c0c0c0"/>
<rect x="613" y="739" width="1" height="19" fill="#c0c0c0"/>
<rect x="621" y="735" width="1" height="23" fill="#c0c0c0"/>
<rect x="629" y="731" width="1" height="27" fill="#c0c0c0"/>
<rect x="637" y="729" width="1" height="29" fill="#c0c0c0"/>
<rect x="645" y="729" width="1" height="29" fill="#c0c0c0"/>
<rect x="653" y="732" width="1" height="26" fill="#c0c0c0"/>
<rect x="661" y="734" width="1" height="24" fill="#c0c0c0"/>
<rect x="669" y="736" width="1" height="22" fill="#c0c0c0"/>
<rect x="677" y="738" width="1" height="20" fill="#c0c0c0"/>
<rect x="685" y="741" width="1" height="17" fill="#c0c0c0"/>
<rect x="693" y="743" width="1" height="15" fill="#c0c0c0"/>
<rect x="701" y="743" width="1" height="15" fill="#c0c0c0"/>
<rect x="709" y="744" width="1" height="14" fill="#c0c0c0"/>
<rect x="717" y="746" width="1" height="12" fill="#c0c0c0"/>
<rect x="725" y="746" width="1" height="12" fill="#c0c0c0"/>
<rect x="733" y="746" width="1" height="12" fill="#c0c0c0"/>
<rect x="741" y="745" width="1" height="13" fill="#c0c0c0"/>
<rect x="749" y="746" width="1" height="12" fill="#c0c0c0"/>
<rect x="757" y="746" width="1" height="12" fill="#c0c0c0"/>
<rect x="765" y="747" width="1" height="11" fill="#c0c0c0"/>
<rect x="773" y="751" width="1" height="7" fill="#c0c0c0"/>
<rect x="781" y="755" width="1" height="3" fill="#c0c0c0"/>
<rect x="789" y="757" width="1" height="3" fill="#c0c0c0"/>
<rect x="797" y="757" width="1" height="11" fill="#c0c0c0"/>
<rect x="805" y="757" width="1" height="18" fill="#c0c0c0"/>
<rect x="813" y="757" width="1" height="22" fill="#c0c0c0"/>
<rect x="821" y="757" width="1" height="24" fill="#c0c0c0"/>
<rect x="829" y="757" width="1" height="23" fill="#c0c0c0"/>
<rect x="837" y="757" width="1" height="21" fill="#c0c0c0"/>
<rect x="845" y="757" width="1" height="17" fill="#c0c0c0"/>
<rect x="853" y="757" width="1" height="15" fill="#c0c0c0"/>
<rect x="861" y="757" width="1" height="15" fill="#c0c0c0"/>
<rect x="869" y="757" width="1" height="11" fill="#c0c0c0"/>
<rect x="877" y="757" width="1" height="11" fill="#c0c0c0"/>
<rect x="885" y="757" width="1" height="11" fill="#c0c0c0"/>
<rect x="893" y="757" width="1" height="9" fill="#c0c0c0"/>
<rect x="901" y="757" width="1" height="5" fill="#c0c0c0"/>
<rect x="909" y="757" width="1" height="3" fill="#c0c0c0"/>
<rect x="917" y="757" width="1" height="1" fill="#c0c0c0"/>
<rect x="925" y="757" width="1" height="1" fill="#c0c0c0"/>
<rect x="933" y="757" width="1" height="1" fill="#c0c0c0"/>
<rect x="941" y="757" width="1" height="5" fill="#c0c0c0"/>
<rect x="949" y="757" width="1" height="9" fill="#c0c0c0"/>
<rect x="957" y="757" width="1" height="9" fill="#c0c0c0"/>
<rect x="965" y="757" width="1" height="11" fill="#c0c0c0"/>
<rect x="973" y="757" width="1" height="13" fill="#c0c0c0"/>
<rect x="981" y="757" width="1" height="13" fill="#c0c0c0"/>
<rect x="989" y="757" width="1" height="11" fill="#c0c0c0"/>
<rect x="997" y="757" width="1" height="11" fill="#c0c0c0"/>
<rect x="1005" y="757" width="1" height="9" fill="#c0c0c0"/>
<rect x="1013" y="757" width="1" height="9" fill="#c0c0c0"/>
<rect x="1021" y="757" width="1" height="7" fill="#c0c0c0"/>
<rect x="1029" y="757" width="1" height="9" fill="#c0c0c0"/>
<rect x="1037" y="757" width="1" height="13" fill="#c0c0c0"/>
<rect x="1045" y="757" width="1" height="15" fill="#c0c0c0"/>
<rect x="1053" y="757" width="1" height="15" fill="#c0c0c0"/>
<rect x="1061" y="757" width="1" height="15" fill="#c0c0c0"/>
<rect x="1069" y="757" width="1" height="11" fill="#c0c0c0"/>
<rect x="1077" y="757" width="1" height="7" fill="#c0c0c0"/>
<rect x="1085" y="757" width="1" height="1" fill="#c0c0c0"/>
<rect x="1093" y="753" width="1" height="5" fill="#c0c0c0"/>
<rect x="1101" y="749" width="1" height="9" fill="#c0c0c0"/>
<rect x="1109" y="745" width="1" height="13" fill="#c0c0c0"/>
<rect x="1117" y="742" width="1" height="16" fill="#c0c0c0"/>
<rect x="1125" y="741" width="1" height="17" fill="#c0c0c0"/>
<rect x="1133" y="740" width="1" height="18" fill="#c0c0c0"/>
<rect x="1141" y="740" width="1" height="18" fill="#c0c0c0"/>
<rect x="1149" y="740" width="1" height="18" fill="#c0c0c0"/>
<rect x="1157" y="738" width="1" height="20" fill="#c0c0c0"/>
<rect x="1165" y="737" width="1" height="21" fill="#c0c0c0"/>
<rect x="1173" y="736" width="1" height="22" fill="#c0c0c0"/>
<rect x="1181" y="737" width="1" height="21" fill="#c0c0c0"/>
<rect x="1189" y="737" width="1" height="21" fill="#c0c0c0"/>
<rect x="1197" y="737" width="1" height="21" fill="#c0c0c0"/>
<rect x="1205" y="739" width="1" height="19" fill="#c0c0c0"/>
<rect x="1213" y="737" width="1" height="21" fill="#c0c0c0"/>
<rect x="1221" y="736" width="1" height="22" fill="#c0c0c0"/>
<rect x="1229" y="736" width="1" height="22" fill="#c0c0c0"/>
<rect x="1237" y="734" width="1" height="24" fill="#c0c0c0"/>
<rect x="1245" y="733" width="1" height="25" fill="#c0c0c0"/>
<rect x="1253" y="734" width="1" height="24" fill="#c0c0c0"/>
<rect x="1261" y="735" width="1" height="23" fill="#c0c0c0"/>
<polyline points="5.5,731.3 13.5,728.9 21.5,726.2 29.5,722.2 37.5,718.2 45.5,714.2 53.5,710.1 61.5,706.1 69.5,701.5 77.5,698.5 85.5,697.0 93.5,697.0 101.5,697.7 109.5,700.5 117.5,702.5 125.5,704.5 133.5,709.1 141.5,713.8 149.5,716.2 157.5,719.8 165.5,721.8 173.5,724.2 181.5,726.6 189.5,728.3 197.5,730.3 205.5,732.7 213.5,734.3 221.5,735.7 229.5,736.7 237.5,737.9 245.5,738.3 253.5,738.3 261.5,738.3 269.5,737.9 277.5,737.7 285.5,737.7 293.5,737.7 301.5,737.7 309.5,737.7 317.5,737.7 325.5,737.5 333.5,738.5 341.5,738.5 349.5,738.3 357.5,737.5 365.5,736.3 373.5,735.3 381.5,733.3 389.5,732.3 397.5,731.3 405.5,729.9 413.5,728.3 421.5,727.9 429.5,727.4 437.5,727.6 445.5,728.3 453.5,728.3 461.5,728.3 469.5,728.3 477.5,729.5 485.5,729.7 493.5,730.3 501.5,731.5 509.5,732.3 517.5,732.9 525.5,734.3 533.5,735.3 541.5,736.3 549.5,737.5 557.5,737.7 565.5,738.3 573.5,739.3 581.5,740.3 589.5,740.3 597.5,741.3 605.5,741.5 613.5,741.5 621.5,741.5 629.5,740.3 637.5,739.5 645.5,737.9 653.5,736.3 661.5,733.9 669.5,733.5 677.5,733.5 685.5,733.5 693.5,734.3 701.5,735.3 709.5,737.7 717.5,738.9 725.5,740.3 733.5,742.3 741.5,743.4 749.5,743.8 757.5,744.4 765.5,744.4 773.5,745.4 781.5,746.4 789.5,748.4 797.5,751.4 805.5,754.4 813.5,757.4 821.5,762.1 829.5,766.1 837.5,769.9 845.5,772.1 853.5,774.6 861.5,776.0 869.5,776.2 877.5,775.4 885.5,774.2 893.5,772.5 901.5,770.1 909.5,769.1 917.5,767.5 925.5,765.5 933.5,764.5 941.5,763.5 949.5,763.5 957.5,763.5 965.5,763.5 973.5,764.5 981.5,765.5 989.5,766.5 997.5,767.1 1005.5,768.5 1013.5,768.5 1021.5,768.5 1029.5,768.5 1037.5,768.5 1045.5,768.5 1053.5,768.5 1061.5,769.5 1069.5,769.5 1077.5,769.5 1085.5,768.1 1093.5,766.5 1101.5,763.9 1109.5,761.5 1117.5,758.5 1125.5,754.4 1133.5,750.4 1141.5,747.4 1149.5,745.4 1157.5,742.3 1165.5,739.9 1173.5,739.3 1181.5,738.3 1189.5,738.3 1197.5,737.5 1205.5,737.5 1213.5,737.3 1221.5,736.9 1229.5,736.7 1237.5,736.3 1245.5,735.7 1253.5,735.7 1261.5,735.7" fill="none" stroke="#ff0000" stroke-width="0.99" stroke-dasharray="3 3"/>
<path d="M8 30 H15 L11.5 34 Z" fill="#000" shape-rendering="auto"/>
<path d="M1272 24 H1282 L1277 29 Z" fill="#b4b4b4" shape-rendering="auto"/>
<rect x="0" y="808" width="1639" height="1" fill="#e3e3e3"/>
<rect x="0" y="810" width="1639" height="19" fill="#f0f0f0"/>
<rect x="0" y="809" width="1639" height="1" fill="#000"/>
<rect x="0" y="829" width="1639" height="2" fill="#fff"/>
<rect x="0" y="831" width="1639" height="1" fill="#d4d4d4"/>
<rect x="0" y="832" width="1639" height="2" fill="#a0a0a0"/>
<rect x="110" y="812" width="1" height="14" fill="#555"/>
<rect x="418" y="812" width="1" height="14" fill="#555"/>
<rect x="522" y="812" width="1" height="14" fill="#555"/>
<rect x="626" y="812" width="1" height="14" fill="#555"/>
<rect x="718" y="812" width="1" height="14" fill="#555"/>
<rect x="810" y="812" width="1" height="14" fill="#555"/>
<rect x="882" y="812" width="1" height="14" fill="#555"/>
<rect x="962" y="812" width="1" height="14" fill="#555"/>
<rect x="1042" y="812" width="1" height="14" fill="#555"/>
<rect x="1122" y="812" width="1" height="14" fill="#555"/>
<rect x="1199" y="812" width="1" height="14" fill="#555"/>
<rect x="1282" y="812" width="1" height="14" fill="#555"/>
<rect x="1366" y="812" width="1" height="14" fill="#555"/>
<rect x="1446" y="812" width="1" height="14" fill="#555"/>
<rect x="1547" y="812" width="1" height="14" fill="#555"/>
<rect x="210" y="809" width="104" height="19" fill="#fff"/>
<rect x="210" y="809" width="1" height="19" fill="#000"/><rect x="313" y="809" width="1" height="19" fill="#000"/><rect x="210" y="827" width="104" height="1" fill="#000"/>
<rect x="0" y="810" width="1" height="19" fill="#a0a0a0"/><rect x="1" y="810" width="1" height="18" fill="#696969"/>
<path d="M1617 815 V822.4 L1613.2 818.7 Z" fill="#9a9a9a" shape-rendering="auto"/><path d="M1631 814.6 V822.4 L1635 818.5 Z" fill="#000" shape-rendering="auto"/>
</svg>
<div class="t" style="left:45.00px;top:4.00px;font-size:10px;letter-spacing:-0.946px;color:#444;-webkit-text-stroke:0;">M1</div>
<div class="t" style="left:72.00px;top:4.00px;font-size:10px;letter-spacing:-0.446px;color:#444;-webkit-text-stroke:0;">M5</div>
<div class="t" style="left:98.00px;top:4.00px;font-size:10px;letter-spacing:-0.484px;color:#444;-webkit-text-stroke:0;">M15</div>
<div class="t" style="left:126.00px;top:4.00px;font-size:10px;letter-spacing:-0.484px;color:#444;-webkit-text-stroke:0;">M30</div>
<div class="t" style="left:157.50px;top:4.00px;font-size:10px;letter-spacing:-0.492px;color:#444;-webkit-text-stroke:0;">H1</div>
<div class="t" style="left:184.50px;top:4.00px;font-size:10px;letter-spacing:-0.142px;color:#444;-webkit-text-stroke:0;">H4</div>
<div class="t" style="left:213.50px;top:4.00px;font-size:10px;letter-spacing:-0.392px;color:#444;-webkit-text-stroke:0;">D1</div>
<div class="t" style="left:241.00px;top:4.00px;font-size:10px;letter-spacing:-0.250px;color:#444;-webkit-text-stroke:0;">W1</div>
<div class="t" style="left:268.00px;top:4.00px;font-size:10px;letter-spacing:-0.776px;color:#444;-webkit-text-stroke:0;">MN</div>
<div class="t" style="left:20.50px;top:28.00px;font-size:10px;letter-spacing:-0.186px;color:#000;">AUDUSD,Daily</div>
<div class="t" style="left:92.00px;top:28.00px;font-size:10px;letter-spacing:-0.401px;color:#000;">0.73670 0.73717 0.73382 0.73523</div>
<div class="t" style="left:9.20px;top:587.00px;font-size:10px;letter-spacing:-0.385px;color:#000;">RSI(14) 59.7750</div>
<div class="t" style="left:9.20px;top:691.00px;font-size:10px;letter-spacing:-0.330px;color:#000;">MACD(12,26,9) 0.004862 0.004704</div>
<div class="t" style="left:1603.00px;top:45.00px;font-size:10px;letter-spacing:-0.450px;color:#000;">0.74160</div>
<div class="t" style="left:1603.00px;top:78.00px;font-size:10px;letter-spacing:-0.450px;color:#000;">0.73670</div>
<div class="t" style="left:1603.00px;top:111.00px;font-size:10px;letter-spacing:-0.450px;color:#000;">0.73190</div>
<div class="t" style="left:1603.00px;top:144.00px;font-size:10px;letter-spacing:-0.450px;color:#000;">0.72700</div>
<div class="t" style="left:1603.00px;top:177.00px;font-size:10px;letter-spacing:-0.450px;color:#000;">0.72210</div>
<div class="t" style="left:1603.00px;top:210.00px;font-size:10px;letter-spacing:-0.450px;color:#000;">0.71720</div>
<div class="t" style="left:1603.00px;top:243.00px;font-size:10px;letter-spacing:-0.450px;color:#000;">0.71240</div>
<div class="t" style="left:1603.00px;top:276.00px;font-size:10px;letter-spacing:-0.450px;color:#000;">0.70750</div>
<div class="t" style="left:1603.00px;top:309.00px;font-size:10px;letter-spacing:-0.450px;color:#000;">0.70260</div>
<div class="t" style="left:1603.00px;top:342.00px;font-size:10px;letter-spacing:-0.450px;color:#000;">0.69780</div>
<div class="t" style="left:1603.00px;top:375.00px;font-size:10px;letter-spacing:-0.450px;color:#000;">0.69290</div>
<div class="t" style="left:1603.00px;top:408.00px;font-size:10px;letter-spacing:-0.450px;color:#000;">0.68800</div>
<div class="t" style="left:1603.00px;top:441.00px;font-size:10px;letter-spacing:-0.450px;color:#000;">0.68310</div>
<div class="t" style="left:1603.00px;top:474.00px;font-size:10px;letter-spacing:-0.450px;color:#000;">0.67830</div>
<div class="t" style="left:1603.00px;top:507.00px;font-size:10px;letter-spacing:-0.450px;color:#000;">0.67340</div>
<div class="t" style="left:1603.00px;top:540.00px;font-size:10px;letter-spacing:-0.450px;color:#000;">0.66850</div>
<div class="t" style="left:1603.00px;top:573.00px;font-size:10px;letter-spacing:-0.450px;color:#000;">0.66360</div>
<div class="t" style="left:1601.50px;top:585.00px;font-size:10px;letter-spacing:-0.728px;color:#000;">100</div>
<div class="t" style="left:1600.00px;top:609.00px;font-size:10px;letter-spacing:-0.412px;color:#000;">70</div>
<div class="t" style="left:1600.00px;top:649.00px;font-size:10px;letter-spacing:-0.412px;color:#000;">30</div>
<div class="t" style="left:1601.00px;top:673.00px;font-size:10px;letter-spacing:-0.562px;color:#000;">0</div>
<div class="t" style="left:1601.00px;top:689.00px;font-size:10px;letter-spacing:-0.401px;color:#000;">0.014861</div>
<div class="t" style="left:1601.00px;top:754.00px;font-size:10px;letter-spacing:-0.241px;color:#000;">0.00</div>
<div class="t" style="left:1601.00px;top:776.00px;font-size:10px;letter-spacing:-0.449px;color:#000;">-0.005938</div>
<div style="position:absolute;left:1599px;top:52px;width:40px;height:11px;background:#ff0000"></div>
<div class="t" style="left:1603.00px;top:54.00px;font-size:10px;letter-spacing:-0.450px;color:#fff;">0.74019</div>
<div style="position:absolute;left:1599px;top:86px;width:40px;height:11px;background:#000000"></div>
<div class="t" style="left:1603.00px;top:88.00px;font-size:10px;letter-spacing:-0.450px;color:#fff;">0.73523</div>
<div style="position:absolute;left:1599px;top:119px;width:40px;height:11px;background:#ff0000"></div>
<div class="t" style="left:1603.00px;top:121.00px;font-size:10px;letter-spacing:-0.450px;color:#fff;">0.73023</div>
<div style="position:absolute;left:1599px;top:187px;width:40px;height:11px;background:#00ff00"></div>
<div class="t" style="left:1603.00px;top:189.00px;font-size:10px;letter-spacing:-0.450px;color:#fff;">0.72026</div>
<div style="position:absolute;left:1599px;top:256px;width:40px;height:11px;background:#0000ff"></div>
<div class="t" style="left:1603.00px;top:258.00px;font-size:10px;letter-spacing:-0.450px;color:#fff;">0.71006</div>
<div style="position:absolute;left:1599px;top:323px;width:40px;height:11px;background:#0000ff"></div>
<div class="t" style="left:1603.00px;top:325.00px;font-size:10px;letter-spacing:-0.450px;color:#fff;">0.70021</div>
<div class="t" style="left:4.50px;top:792.00px;font-size:10px;letter-spacing:-0.569px;color:#000;">1 Jun 2020</div>
<div class="t" style="left:68.00px;top:792.00px;font-size:10px;letter-spacing:-0.568px;color:#000;">10 Jun 2020</div>
<div class="t" style="left:132.00px;top:792.00px;font-size:10px;letter-spacing:-0.595px;color:#000;">19 Jun 2020</div>
<div class="t" style="left:196.00px;top:792.00px;font-size:10px;letter-spacing:-0.586px;color:#000;">29 Jun 2020</div>
<div class="t" style="left:260.00px;top:792.00px;font-size:10px;letter-spacing:-0.475px;color:#000;">8 Jul 2020</div>
<div class="t" style="left:324.00px;top:792.00px;font-size:10px;letter-spacing:-0.564px;color:#000;">17 Jul 2020</div>
<div class="t" style="left:388.00px;top:792.00px;font-size:10px;letter-spacing:-0.519px;color:#000;">27 Jul 2020</div>
<div class="t" style="left:452.00px;top:792.00px;font-size:10px;letter-spacing:-0.311px;color:#000;">5 Aug 2020</div>
<div class="t" style="left:516.00px;top:792.00px;font-size:10px;letter-spacing:-0.333px;color:#000;">14 Aug 2020</div>
<div class="t" style="left:580.00px;top:792.00px;font-size:10px;letter-spacing:-0.379px;color:#000;">24 Aug 2020</div>
<div class="t" style="left:644.00px;top:792.00px;font-size:10px;letter-spacing:-0.516px;color:#000;">2 Sep 2020</div>
<div class="t" style="left:708.00px;top:792.00px;font-size:10px;letter-spacing:-0.498px;color:#000;">11 Sep 2020</div>
<div class="t" style="left:772.00px;top:792.00px;font-size:10px;letter-spacing:-0.493px;color:#000;">21 Sep 2020</div>
<div class="t" style="left:836.00px;top:792.00px;font-size:10px;letter-spacing:-0.502px;color:#000;">30 Sep 2020</div>
<div class="t" style="left:900.00px;top:792.00px;font-size:10px;letter-spacing:-0.342px;color:#000;">9 Oct 2020</div>
<div class="t" style="left:964.00px;top:792.00px;font-size:10px;letter-spacing:-0.408px;color:#000;">19 Oct 2020</div>
<div class="t" style="left:1028.00px;top:792.00px;font-size:10px;letter-spacing:-0.335px;color:#000;">28 Oct 2020</div>
<div class="t" style="left:1092.00px;top:792.00px;font-size:10px;letter-spacing:-0.265px;color:#000;">6 Nov 2020</div>
<div class="t" style="left:1156.00px;top:792.00px;font-size:10px;letter-spacing:-0.337px;color:#000;">16 Nov 2020</div>
<div class="t" style="left:1220.00px;top:792.00px;font-size:10px;letter-spacing:-0.292px;color:#000;">25 Nov 2020</div>
<div class="t" style="left:18.70px;top:814.00px;font-size:12.5px;letter-spacing:-0.420px;color:#6d6d6d;-webkit-text-stroke:0;text-rendering:auto;">EURUSD,Daily</div>
<div class="t" style="left:120.50px;top:814.00px;font-size:12.5px;letter-spacing:-0.288px;color:#6d6d6d;-webkit-text-stroke:0;text-rendering:auto;">USDCHF,Daily</div>
<div class="t" style="left:221.00px;top:814.00px;font-size:12.5px;letter-spacing:-0.170px;color:#000;-webkit-text-stroke:0;text-rendering:auto;">AUDUSD,Daily</div>
<div class="t" style="left:325.00px;top:814.00px;font-size:12.5px;letter-spacing:-0.337px;color:#6d6d6d;-webkit-text-stroke:0;text-rendering:auto;">USDCAD,Daily</div>
<div class="t" style="left:428.00px;top:814.00px;font-size:12.5px;letter-spacing:-0.169px;color:#6d6d6d;-webkit-text-stroke:0;text-rendering:auto;">USDCNH,Daily</div>
<div class="t" style="left:534.00px;top:814.00px;font-size:12.5px;letter-spacing:-0.362px;color:#6d6d6d;-webkit-text-stroke:0;text-rendering:auto;">EURUSD,Daily</div>
<div class="t" style="left:638.00px;top:814.00px;font-size:12.5px;letter-spacing:-0.527px;color:#6d6d6d;-webkit-text-stroke:0;text-rendering:auto;">GBPUSD,H4</div>
<div class="t" style="left:728.70px;top:814.00px;font-size:12.5px;letter-spacing:-0.305px;color:#6d6d6d;-webkit-text-stroke:0;text-rendering:auto;">XAUUSD,H1</div>
<div class="t" style="left:821.00px;top:814.00px;font-size:12.5px;letter-spacing:-0.146px;color:#6d6d6d;-webkit-text-stroke:0;text-rendering:auto;">HK50,H1</div>
<div class="t" style="left:893.00px;top:814.00px;font-size:12.5px;letter-spacing:-0.147px;color:#6d6d6d;-webkit-text-stroke:0;text-rendering:auto;">UK100,H1</div>
<div class="t" style="left:973.00px;top:814.00px;font-size:12.5px;letter-spacing:-0.147px;color:#6d6d6d;-webkit-text-stroke:0;text-rendering:auto;">UK100,H1</div>
<div class="t" style="left:1053.00px;top:814.00px;font-size:12.5px;letter-spacing:-0.555px;color:#6d6d6d;-webkit-text-stroke:0;text-rendering:auto;">GER30,H1</div>
<div class="t" style="left:1132.00px;top:814.00px;font-size:12.5px;letter-spacing:-0.545px;color:#6d6d6d;-webkit-text-stroke:0;text-rendering:auto;">FRA40,H1</div>
<div class="t" style="left:1208.00px;top:814.00px;font-size:12.5px;letter-spacing:-0.082px;color:#6d6d6d;-webkit-text-stroke:0;text-rendering:auto;">USOil,Daily</div>
<div class="t" style="left:1292.00px;top:814.00px;font-size:12.5px;letter-spacing:-0.462px;color:#6d6d6d;-webkit-text-stroke:0;text-rendering:auto;">USDJPY,H1</div>
<div class="t" style="left:1376.00px;top:814.00px;font-size:12.5px;letter-spacing:-0.144px;color:#6d6d6d;-webkit-text-stroke:0;text-rendering:auto;">DJ30,Daily</div>
<div class="t" style="left:1456.00px;top:814.00px;font-size:12.5px;letter-spacing:-0.018px;color:#6d6d6d;-webkit-text-stroke:0;text-rendering:auto;">CHINA300,H1</div>
<div class="t" style="left:1556.00px;top:814.00px;font-size:12.5px;letter-spacing:-0.187px;color:#6d6d6d;-webkit-text-stroke:0;text-rendering:auto;">USOil,H1</div>
</body></html>
